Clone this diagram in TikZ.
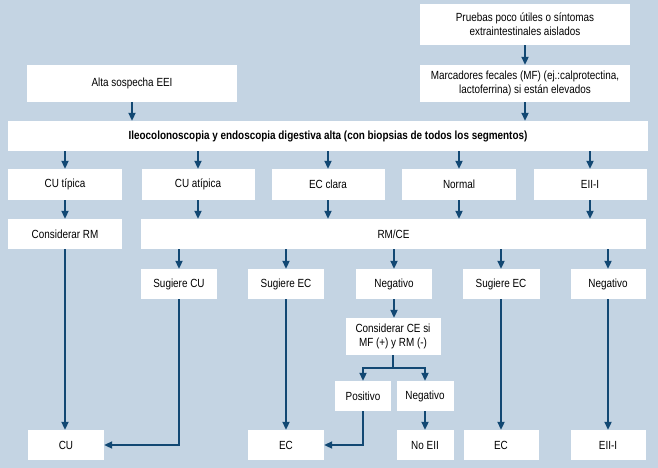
\documentclass[tikz,border=0pt]{standalone}
\usepackage{fontspec}
\setmainfont{Liberation Sans}[FakeStretch=0.84]
\usetikzlibrary{arrows.meta,calc}
\definecolor{bgc}{RGB}{196,212,227}
\definecolor{arc}{RGB}{18,72,115}
\begin{document}
\begin{tikzpicture}[x=1bp,y=-1bp,
  box/.style={draw=none,fill=white,inner sep=0pt,align=center,font=\fontsize{11.8bp}{14bp}\selectfont},
  arr/.style={draw=arc,line width=2bp,-{Triangle[width=7bp,length=8bp]}},
  ln/.style={draw=arc,line width=2bp}]
\fill[bgc] (0,0) rectangle (658,468);
\useasboundingbox (0,0) rectangle (658,468);
% top
\node[box,minimum width=210bp,minimum height=41bp] (pru) at (525,24.5) {Pruebas poco útiles o síntomas\\extraintestinales aislados};
\node[box,minimum width=210bp,minimum height=37bp] (mar) at (525,83.5) {Marcadores fecales (MF) (ej.:calprotectina,\\lactoferrina) si están elevados};
\node[box,minimum width=209bp,minimum height=37bp] (alta) at (132,83.5) {Alta sospecha EEI};
\node[box,minimum width=640bp,minimum height=30bp,font=\fontsize{11.8bp}{14bp}\selectfont\bfseries] (ileo) at (328,136) {Ileocolonoscopia y endoscopia digestiva alta (con biopsias de todos los segmentos)};
% row 2
\node[box,minimum width=114bp,minimum height=31bp] (cut) at (65,184.5) {CU típica};
\node[box,minimum width=113bp,minimum height=31bp] (cua) at (198,184.5) {CU atípica};
\node[box,minimum width=113bp,minimum height=31bp] (ecc) at (328,184.5) {EC clara};
\node[box,minimum width=114bp,minimum height=31bp] (nor) at (459,184.5) {Normal};
\node[box,minimum width=113bp,minimum height=31bp] (eii) at (590,184.5) {EII-I};
% row 3
\node[box,minimum width=114bp,minimum height=30bp] (crm) at (65,234) {Considerar RM};
\node[box,minimum width=505bp,minimum height=30bp] (rmce) at (393.5,234) {RM/CE};
% row 4
\node[box,minimum width=76bp,minimum height=30bp] (scu) at (179,284) {Sugiere CU};
\node[box,minimum width=76bp,minimum height=30bp] (sec1) at (286,284) {Sugiere EC};
\node[box,minimum width=76bp,minimum height=30bp] (neg1) at (394,284) {Negativo};
\node[box,minimum width=77bp,minimum height=30bp] (sec2) at (501,284) {Sugiere EC};
\node[box,minimum width=75bp,minimum height=30bp] (neg2) at (608,284) {Negativo};
% row 5-6
\node[box,minimum width=95bp,minimum height=37bp] (cce) at (393,336.5) {Considerar CE si\\MF (+) y RM (-)};
\node[box,minimum width=56bp,minimum height=30bp] (pos) at (363,396) {Positivo};
\node[box,minimum width=57bp,minimum height=30bp] (neg3) at (425,396) {Negativo};
% row 7
\node[box,minimum width=76bp,minimum height=30bp] (cu) at (66,445) {CU};
\node[box,minimum width=76bp,minimum height=30bp] (ec1) at (286,445) {EC};
\node[box,minimum width=57bp,minimum height=30bp] (noe) at (425,445) {No EII};
\node[box,minimum width=75bp,minimum height=30bp] (ec2) at (501,445) {EC};
\node[box,minimum width=75bp,minimum height=30bp] (eiif) at (608,445) {EII-I};
% connectors
\draw[arr] (pru.south) -- (mar.north);
\draw[arr] (mar.south) -- (mar.south |- ileo.north);
\draw[arr] (alta.south) -- (alta.south |- ileo.north);
\foreach \n in {cut,cua,ecc,nor,eii} \draw[arr] (ileo.south -| \n.north) -- (\n.north);
\draw[arr] (cut.south) -- (crm.north);
\foreach \n in {cua,ecc,nor,eii} \draw[arr] (\n.south) -- (\n.south |- rmce.north);
\foreach \n in {scu,sec1,neg1,sec2,neg2} \draw[arr] (rmce.south -| \n.north) -- (\n.north);
\draw[arr] (crm.south) -- (crm.south |- cu.north);
\draw[arr] (scu.south) |- (cu.east);
\draw[arr] (sec1.south) -- (ec1.north);
\draw[arr] (neg1.south) -- (neg1.south |- cce.north);
\coordinate (sp) at ($(cce.south)+(0,13)$);
\draw[ln] (cce.south) -- (sp);
\draw[arr] (sp) -| (pos.north);
\draw[arr] (sp) -| (neg3.north);
\draw[arr] (pos.south) |- (ec1.east);
\draw[arr] (neg3.south) -- (noe.north);
\draw[arr] (sec2.south) -- (ec2.north);
\draw[arr] (neg2.south) -- (eiif.north);
\end{tikzpicture}
\end{document}
